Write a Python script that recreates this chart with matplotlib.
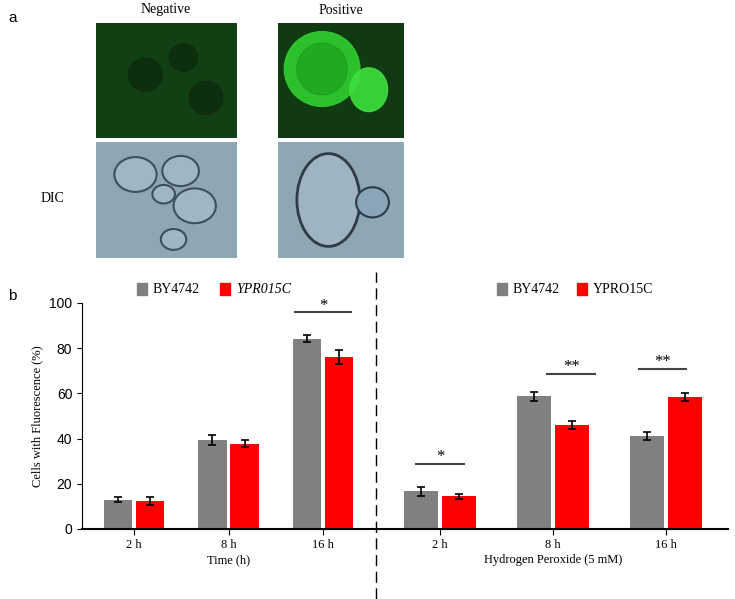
import matplotlib
matplotlib.use("Agg")
import matplotlib.pyplot as plt
from matplotlib.patches import Circle, Ellipse
import numpy as np

# data
time_labels = ["2 h", "8 h", "16 h"]
time_by = [13.0, 39.3, 84.2]
time_by_err = [1.2, 2.3, 1.5]
time_ypr = [12.2, 37.7, 76.0]
time_ypr_err = [1.8, 1.6, 3.0]

h2o2_labels = ["2 h", "8 h", "16 h"]
h2o2_by = [16.8, 58.8, 41.3]
h2o2_by_err = [2.0, 2.0, 1.8]
h2o2_ypr = [14.5, 46.0, 58.3]
h2o2_ypr_err = [1.2, 1.7, 1.7]

GRAY = "#808080"
RED = "#ff0000"
W, H = 735, 599

fig = plt.figure(figsize=(W / 100, H / 100), dpi=100)
plt.rcParams["font.family"] = "Liberation Serif"


def px_axes(x0, y0, x1, y1):
    return fig.add_axes([x0 / W, 1 - y1 / H, (x1 - x0) / W, (y1 - y0) / H])


# ---- panel a: schematic micrographs
fig.text(8 / W, 1 - 18 / H, "a", fontsize=11, family="Liberation Sans", va="center")
fig.text(166 / W, 1 - 10 / H, "Negative", fontsize=10, ha="center", va="center")
fig.text(341 / W, 1 - 10 / H, "Positive", fontsize=10, ha="center", va="center")
fig.text(52 / W, 1 - 198 / H, "DIC", fontsize=10, ha="center", va="center")

ax = px_axes(96, 23, 237, 138)
ax.add_patch(plt.Rectangle((0, 0), 1, 1, color="#123f14", zorder=-1))
for cx, cy, r in [(0.35, 0.55, 0.12), (0.62, 0.7, 0.1), (0.78, 0.35, 0.12)]:
    ax.add_patch(Ellipse((cx, cy), r * 2, r * 2.4, color="#0b2c0d", alpha=0.8))
ax.set_xlim(0, 1); ax.set_ylim(0, 1); ax.axis("off")

ax = px_axes(278, 23, 404, 138)
ax.add_patch(plt.Rectangle((0, 0), 1, 1, color="#0f3a12", zorder=-1))
ax.add_patch(Ellipse((0.35, 0.6), 0.6, 0.65, color="#2fd02f", alpha=0.9))
ax.add_patch(Ellipse((0.35, 0.6), 0.4, 0.45, color="#1a9a1a", alpha=0.6))
ax.add_patch(Ellipse((0.72, 0.42), 0.3, 0.38, color="#3ee03e", alpha=0.9))
ax.set_xlim(0, 1); ax.set_ylim(0, 1); ax.axis("off")

ax = px_axes(96, 142, 237, 258)
ax.add_patch(plt.Rectangle((0, 0), 1, 1, color="#8fa6b3", zorder=-1))
for cx, cy, r in [(0.28, 0.72, 0.15), (0.6, 0.75, 0.13), (0.48, 0.55, 0.08),
                  (0.7, 0.45, 0.15), (0.55, 0.16, 0.09)]:
    ax.add_patch(Circle((cx, cy), r, facecolor="#9fb6c4", edgecolor="#3d4f5c", lw=1.5))
ax.set_xlim(0, 1); ax.set_ylim(0, 1); ax.axis("off")

ax = px_axes(278, 142, 404, 258)
ax.add_patch(plt.Rectangle((0, 0), 1, 1, color="#8fa6b3", zorder=-1))
ax.add_patch(Ellipse((0.4, 0.5), 0.5, 0.8, facecolor="#9fb4c2", edgecolor="#2d3d48", lw=2))
ax.add_patch(Circle((0.75, 0.48), 0.13, facecolor="#8aa4b8", edgecolor="#2d3d48", lw=1.5))
ax.set_xlim(0, 1); ax.set_ylim(0, 1); ax.axis("off")

# ---- panel b
fig.text(8 / W, 1 - 296 / H, "b", fontsize=11, family="Liberation Sans", va="center")

bw = 0.3
ekw = dict(ecolor="black", capsize=3, elinewidth=1.2, capthick=1.2)


def bars(ax, by, by_err, ypr, ypr_err, labels, xlabel):
    x = np.arange(len(labels))
    ax.bar(x - bw / 2 - 0.02, by, bw, yerr=by_err, color=GRAY, error_kw=ekw)
    ax.bar(x + bw / 2 + 0.02, ypr, bw, yerr=ypr_err, color=RED, error_kw=ekw)
    ax.set_xticks(x)
    ax.set_xticklabels(labels, fontsize=9)
    ax.set_xlabel(xlabel, fontsize=9, labelpad=2)
    ax.set_xlim(-0.55, len(labels) - 0.45)
    ax.set_ylim(0, 100)
    for s in ["top", "right"]:
        ax.spines[s].set_visible(False)
    ax.spines["bottom"].set_linewidth(1.5)
    ax.tick_params(axis="x", length=4)
    return x


axL = px_axes(82, 303, 375, 529)
xL = bars(axL, time_by, time_by_err, time_ypr, time_ypr_err, time_labels, "Time (h)")
axL.set_ylabel("Cells with Fluorescence (%)", fontsize=9)
axL.set_yticks(range(0, 101, 20))
axL.tick_params(axis="y", labelsize=10, labelfontfamily="Liberation Sans")
axL.plot([xL[2] - 0.3, xL[2] + 0.3], [96, 96], color="#444", lw=1.5)
axL.text(xL[2], 97, "*", ha="center", fontsize=12)

axR = px_axes(378, 303, 728, 529)
xR = bars(axR, h2o2_by, h2o2_by_err, h2o2_ypr, h2o2_ypr_err, h2o2_labels,
          "Hydrogen Peroxide (5 mM)")
axR.spines["left"].set_visible(False)
axR.set_yticks([])
for xi, off, yv, st in [(0, 0.0, 28.7, "*"), (1, 0.16, 68.4, "**"), (2, -0.03, 70.8, "**")]:
    axR.plot([xR[xi] + off - 0.21, xR[xi] + off + 0.21], [yv, yv], color="#444", lw=1.5)
    axR.text(xR[xi] + off, yv + 1.5, st, ha="center", fontsize=12)

# legends
LY = 289
for lx, col, txt, sty in [(137, GRAY, "BY4742", "normal"), (220, RED, "YPR015C", "italic"),
                          (497, GRAY, "BY4742", "normal"), (577, RED, "YPRO15C", "normal")]:
    fig.patches.append(plt.Rectangle((lx / W, 1 - (LY + 6) / H), 10 / W, 12 / H,
                                     color=col, transform=fig.transFigure))
    fig.text((lx + 16) / W, 1 - LY / H, txt, fontsize=10, va="center", style=sty)

# dashed separator
fig.add_artist(plt.Line2D([376 / W, 376 / W], [0, 1 - 272 / H], color="black",
                          lw=1, ls=(0, (8, 4)), transform=fig.transFigure))

fig.savefig("out.png", dpi=100)
